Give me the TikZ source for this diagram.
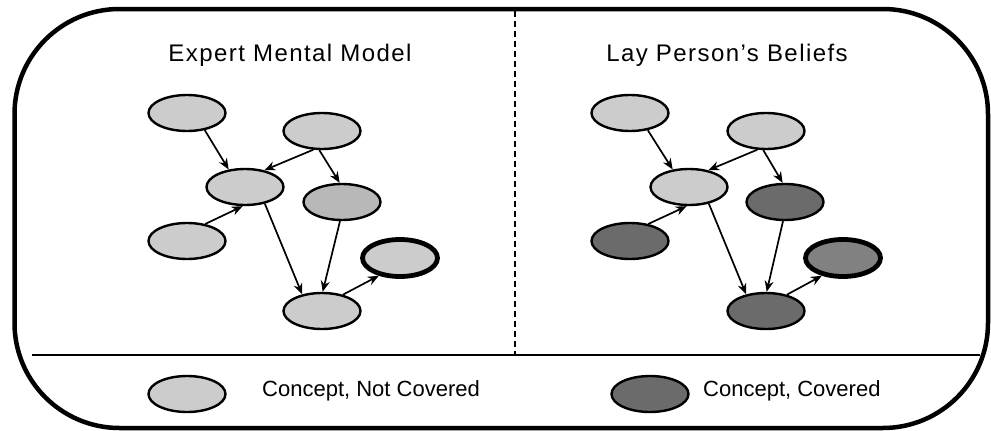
\documentclass[tikz,border=0pt]{standalone}
\usepackage{fontspec}
\setmainfont{Liberation Sans}
\usetikzlibrary{shapes.geometric,arrows.meta}
\definecolor{lightgrey}{gray}{0.80}
\definecolor{midgrey}{gray}{0.72}
\definecolor{darkgrey}{gray}{0.42}
\begin{document}
\begin{tikzpicture}[x=1pt,y=-1pt,
  concept/.style={ellipse, draw=black, line width=2.4pt, minimum width=77pt, minimum height=36pt, inner sep=0pt},
  uncovered/.style={concept, fill=lightgrey},
  covered/.style={concept, fill=darkgrey},
  goal/.style={line width=4.8pt, minimum width=75pt, minimum height=37pt},
  link/.style={-{Stealth[length=11pt,width=9pt]}, line width=1.7pt},
  heading/.style={font=\fontsize{24}{28}\selectfont\addfontfeatures{LetterSpace=6}},
  legendtext/.style={font=\fontsize{22}{26}\selectfont, anchor=west, inner sep=0pt}]
\useasboundingbox (0,0) rectangle (991,431);

% frame, separator and panel divider
\draw[line width=4.5pt, rounded corners=105pt] (14.5,9) rectangle (988,428);
\coordinate (sepL) at (32,355);
\coordinate (sepR) at (980,355);
\draw[line width=2.5pt] (sepL) -- (sepR);
\coordinate (divT) at (515,11);
\coordinate (divB) at (515,355);
\draw[line width=1.2pt, dash pattern=on 6pt off 4pt] (divT) -- (divB);

% headings
\node[heading] (h1) at (290,55) {Expert Mental Model};
\node[heading] (h2) at (727,55) {Lay Person’s Beliefs};

% expert model
\node[uncovered] (a1) at (187,113) {};
\node[uncovered] (b1) at (322,131) {};
\node[uncovered] (c1) at (245,187) {};
\node[concept, fill=midgrey] (d1) at (342,202) {};
\node[uncovered] (e1) at (187,241) {};
\node[uncovered, goal] (f1) at (400,258) {};
\node[uncovered] (g1) at (322,311) {};
\draw[link] (a1.316) -- (c1.133);
\draw[link] (b1.245) -- (c1.41);
\draw[link] (b1.262) -- (d1.97);
\draw[link] (e1.43) -- (c1.263);
\draw[link] (c1.320) -- (g1.140);
\draw[link] (d1.264) -- (g1.88);
\draw[link] (g1.38) -- (f1.220);

% lay person's beliefs
\node[uncovered] (a2) at (630,113) {};
\node[uncovered] (b2) at (766,131) {};
\node[uncovered] (c2) at (689,187) {};
\node[covered] (d2) at (785,202) {};
\node[covered] (e2) at (630,241) {};
\node[concept, goal, fill=darkgrey!85!white] (f2) at (843,258) {};
\node[covered] (g2) at (766,311) {};
\draw[link] (a2.316) -- (c2.133);
\draw[link] (b2.245) -- (c2.41);
\draw[link] (b2.262) -- (d2.97);
\draw[link] (e2.43) -- (c2.263);
\draw[link] (c2.320) -- (g2.140);
\draw[link] (d2.264) -- (g2.88);
\draw[link] (g2.38) -- (f2.220);

% legend
\node[uncovered] (k1) at (187,394) {};
\node[legendtext] (l1) at (262,391) {Concept, Not Covered};
\node[covered] (k2) at (650,394) {};
\node[legendtext] (l2) at (703,391) {Concept, Covered};
\end{tikzpicture}
\end{document}
